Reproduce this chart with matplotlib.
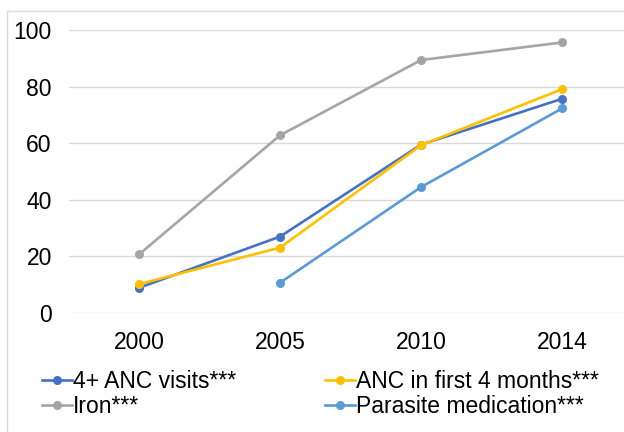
import matplotlib
matplotlib.use("Agg")
import matplotlib.pyplot as plt
from matplotlib.patches import Rectangle
import numpy as np

plt.rcParams['font.family'] = ['Liberation Sans', 'DejaVu Sans']

years = ['2000', '2005', '2010', '2014']
anc_visits = [8.9, 27.0, 59.5, 75.7]
anc_first4 = [10.2, 23.1, 59.3, 79.1]
iron = [20.7, 62.8, 89.4, 95.6]
parasite = [np.nan, 10.7, 44.5, 72.3]

fig = plt.figure(figsize=(6.24, 4.32), dpi=100)
ax = fig.add_axes([0.1098, 0.2755, 0.904, 0.655])

x = np.arange(len(years))
ax.plot(x, anc_visits, color='#4472C4', lw=1.9, marker='o', ms=5.5, label='4+ ANC visits***')
ax.plot(x, anc_first4, color='#FFC000', lw=1.9, marker='o', ms=5.5, label='ANC in first 4 months***')
ax.plot(x, iron, color='#A5A5A5', lw=1.9, marker='o', ms=5.5, label='Iron***')
ax.plot(x, parasite, color='#5B9BD5', lw=1.9, marker='o', ms=5.5, label='Parasite medication***')

ax.set_xlim(-0.5, 3.5)
ax.set_ylim(0, 100)
ax.set_xticks(x)
ax.set_xticklabels(years)
ax.set_yticks(range(0, 101, 20))
ax.grid(axis='y', color='#D9D9D9', lw=1)
ax.set_axisbelow(True)
for s in ax.spines.values():
    s.set_visible(False)
ax.tick_params(length=0, labelsize=16.5, colors='black')
ax.tick_params(axis='y', pad=12)
ax.tick_params(axis='x', pad=13)

# reorder so rows read: visits / first 4 months, iron / parasite
h, l = ax.get_legend_handles_labels()
order = [0, 2, 1, 3]
fig.legend([h[i] for i in order], [l[i] for i in order], ncol=2,
           loc='upper left', bbox_to_anchor=(0.067, 0.1424), frameon=False,
           fontsize=16.5, handlelength=1.3, handletextpad=0.05,
           columnspacing=3.9, labelspacing=0.05, borderpad=0, borderaxespad=0)

fig.patches.append(Rectangle((7 / 624, -0.1), 2, 1.1 - 11 / 432, transform=fig.transFigure,
                             fill=False, edgecolor='#D9D9D9', lw=1))

fig.savefig('out.png', dpi=100)
